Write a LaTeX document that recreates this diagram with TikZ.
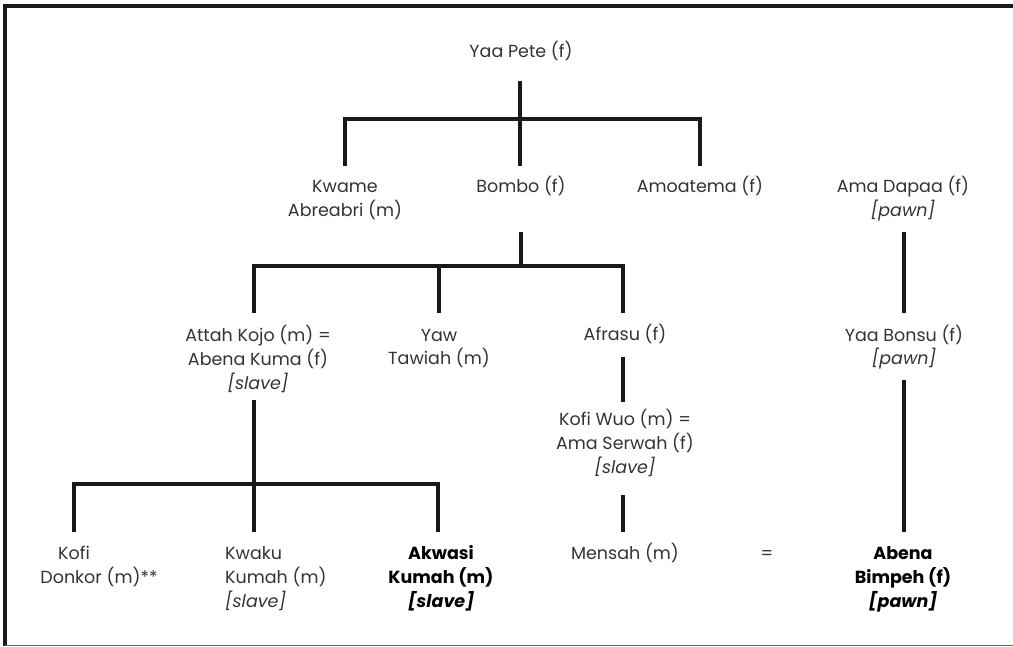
\documentclass[tikz,border=0pt]{standalone}
\usepackage{fontspec}
\setmainfont{Poppins}
\tikzset{
  person/.style={anchor=base, align=center, inner sep=0pt, text=black!80,
    font=\fontsize{17.5}{24}\selectfont},
  heir/.style={person, text=black, font=\fontsize{17.5}{24}\selectfont\bfseries},
  kin/.style={line width=3.2pt, black!90}
}
\begin{document}
\begin{tikzpicture}[x=1pt, y=-1pt]
  \useasboundingbox (0,0) rectangle (1013,647);
  % frame
  \draw [line width=4pt, black!90] (3,6) -- (1013,6);
  \draw [line width=4pt, black!90] (5,4) -- (5,646);
  \draw [line width=1.8pt, black!60] (5,645.5) -- (1013,645.5);

  % first generation (base = last line)
  \node [person] (yaapete) at (521,58) {Yaa Pete (f)};
  \node [person] (kwame) at (345,217) {Kwame\\Abreabri (m)};
  \node [person] (bombo) at (521,193) {Bombo (f)};
  \node [person] (amoatema) at (700,193) {Amoatema (f)};
  \node [person] (amadapaa) at (903,217) {Ama Dapaa (f)\\\textit{[pawn]}};

  % second generation
  \node [person] (attah) at (258,389) {Attah Kojo (m) =\\Abena Kuma (f)\\\textit{[slave]}};
  \node [person] (yaw) at (439,365) {Yaw\\Tawiah (m)};
  \node [person] (afrasu) at (625,341) {Afrasu (f)};
  \node [person] (yaabonsu) at (904,365) {Yaa Bonsu (f)\\\textit{[pawn]}};
  \node [person] (kofiwuo) at (625,473) {Kofi Wuo (m) =\\Ama Serwah (f)\\\textit{[slave]}};

  % third generation
  \node [person] (kofi) at (74,559) {Kofi};
  \node [person] (donkor) at (99,583) {Donkor (m)**};
  \node [person, anchor=base west, align=left] (kwaku) at (225,607) {Kwaku\\Kumah (m)\\\textit{[slave]}};
  \node [heir] (akwasi) at (441,607) {Akwasi\\Kumah (m)\\\textit{[slave]}};
  \node [person] (mensah) at (625,559) {Mensah (m)};
  \node [person] (wed) at (767,559) {=};
  \node [heir] (abena) at (903,607) {Abena\\Bimpeh (f)\\\textit{[pawn]}};

  % line ends
  \coordinate (yaapete-s) at (520,81);
  \coordinate (j1) at (520,119);
  \coordinate (kwame-n) at (345,166);
  \coordinate (bombo-n) at (520,166);
  \coordinate (amoatema-n) at (700,166);
  \coordinate (bombo-s) at (521,232);
  \coordinate (j2) at (521,266);
  \coordinate (attah-n) at (254,313);
  \coordinate (yaw-n) at (439,313);
  \coordinate (afrasu-n) at (623,313);
  \coordinate (afrasu-s) at (623,357);
  \coordinate (kofiwuo-n) at (623,402);
  \coordinate (kofiwuo-s) at (623,495);
  \coordinate (mensah-n) at (623,532);
  \coordinate (attah-s) at (254,400);
  \coordinate (j3) at (254,484);
  \coordinate (kofi-n) at (74,532);
  \coordinate (kwaku-n) at (254,532);
  \coordinate (akwasi-n) at (438,532);
  \coordinate (amadapaa-s) at (904,232);
  \coordinate (yaabonsu-n) at (904,313);
  \coordinate (yaabonsu-s) at (904,380);
  \coordinate (abena-n) at (904,532);

  % descent
  \draw [kin] (yaapete-s) -- (j1);
  \draw [kin] (kwame-n) |- (j1) -| (amoatema-n);
  \draw [kin] (j1) -- (bombo-n);
  \draw [kin] (bombo-s) -- (j2);
  \draw [kin] (attah-n) |- (j2) -| (afrasu-n);
  \draw [kin] (j2) -| (yaw-n);
  \draw [kin] (afrasu-s) -- (kofiwuo-n);
  \draw [kin] (kofiwuo-s) -- (mensah-n);
  \draw [kin] (attah-s) -- (j3);
  \draw [kin] (kofi-n) |- (j3) -| (akwasi-n);
  \draw [kin] (j3) -- (kwaku-n);
  \draw [kin] (amadapaa-s) -- (yaabonsu-n);
  \draw [kin] (yaabonsu-s) -- (abena-n);
\end{tikzpicture}
\end{document}
